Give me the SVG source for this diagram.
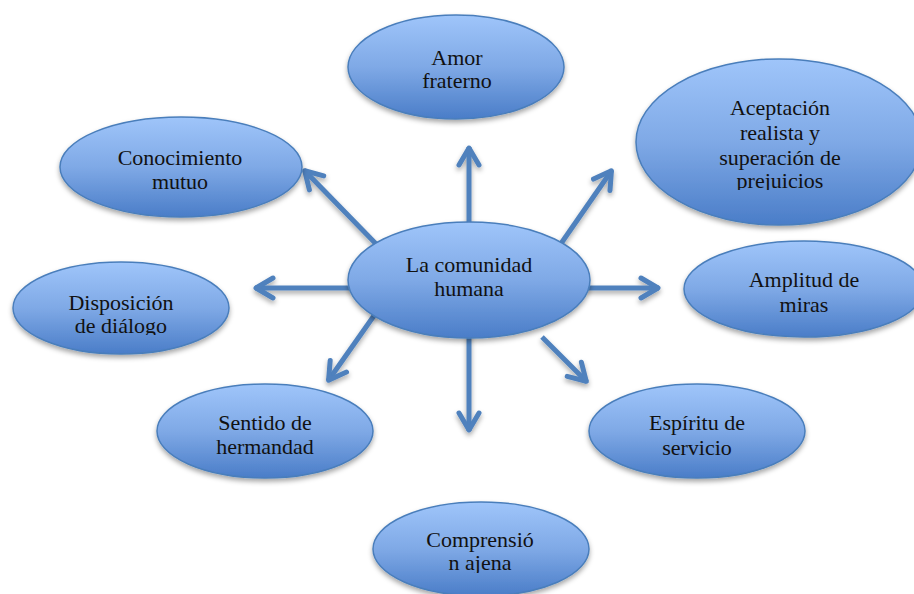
<svg xmlns="http://www.w3.org/2000/svg" width="914" height="594" viewBox="0 0 914 594">
<defs>
<linearGradient id="g" x1="0" y1="0" x2="0" y2="1">
<stop offset="0" stop-color="#9FC5FA"/>
<stop offset="0.5" stop-color="#7FA9E6"/>
<stop offset="1" stop-color="#4A7DC8"/>
</linearGradient>
<filter id="sh" x="-20%" y="-20%" width="140%" height="150%">
<feDropShadow dx="0" dy="3" stdDeviation="2.5" flood-color="#000" flood-opacity="0.35"/>
</filter>
<marker id="chev" markerUnits="userSpaceOnUse" markerWidth="30" markerHeight="30" refX="0" refY="0" viewBox="-25 -15 30 30" orient="auto" overflow="visible">
<path d="M-18,-10 L-1,0 L-18,10" fill="none" stroke="#4F81BD" stroke-width="5" stroke-linecap="round" stroke-linejoin="round"/>
</marker>
<clipPath id="c1"><rect x="600" y="40" width="314" height="150"/></clipPath>
<clipPath id="c2"><rect x="0" y="260" width="260" height="75"/></clipPath>
<clipPath id="c3"><rect x="360" y="500" width="260" height="73"/></clipPath>
</defs>
<style>
.n ellipse{fill:url(#g);stroke:#4A7EBB;stroke-width:1.5;filter:url(#sh)}
.n text{font-family:"Liberation Serif","Times New Roman",serif;font-size:22px;fill:#111;text-anchor:middle}
.c line{stroke:#4F81BD;stroke-width:5;marker-end:url(#chev)}
</style>
<rect width="914" height="594" fill="#fff"/>
<g id="connectors" class="c" filter="url(#sh)">
<line x1="469" y1="225" x2="469" y2="147"/>
<line x1="380" y1="248" x2="304" y2="170"/>
<line x1="560" y1="245" x2="612" y2="170"/>
<line x1="355" y1="288" x2="255" y2="288"/>
<line x1="585" y1="288" x2="659" y2="288"/>
<line x1="378" y1="310" x2="328" y2="381"/>
<line x1="469" y1="330" x2="469" y2="431"/>
<line x1="542" y1="337" x2="587" y2="382"/>
</g>
<g id="amor" class="n">
<ellipse cx="456" cy="67" rx="108" ry="52"/>
<text x="457" y="65">Amor</text>
<text x="457" y="88">fraterno</text>
</g>
<g id="aceptacion" class="n">
<ellipse cx="779" cy="142" rx="143" ry="83"/>
<g clip-path="url(#c1)">
<text x="780" y="115">Aceptación</text>
<text x="780" y="140">realista y</text>
<text x="780" y="165">superación de</text>
<text x="780" y="188">prejuicios</text>
</g>
</g>
<g id="conocimiento" class="n">
<ellipse cx="181" cy="167" rx="121" ry="50"/>
<text x="180" y="165">Conocimiento</text>
<text x="180" y="189">mutuo</text>
</g>
<g id="disposicion" class="n">
<ellipse cx="121" cy="308" rx="108" ry="46"/>
<g clip-path="url(#c2)">
<text x="121" y="310">Disposición</text>
<text x="121" y="333">de diálogo</text>
</g>
</g>
<g id="amplitud" class="n">
<ellipse cx="804" cy="289" rx="120" ry="48"/>
<text x="804" y="287">Amplitud de</text>
<text x="804" y="312">miras</text>
</g>
<g id="espiritu" class="n">
<ellipse cx="697" cy="431" rx="108" ry="47"/>
<text x="697" y="430">Espíritu de</text>
<text x="697" y="455">servicio</text>
</g>
<g id="sentido" class="n">
<ellipse cx="265" cy="431" rx="108" ry="47"/>
<text x="265" y="430">Sentido de</text>
<text x="265" y="454">hermandad</text>
</g>
<g id="comprension" class="n">
<ellipse cx="481" cy="549" rx="108" ry="47"/>
<g clip-path="url(#c3)">
<text x="480" y="547">Comprensió</text>
<text x="480" y="570">n ajena</text>
</g>
</g>
<g id="center" class="n">
<ellipse cx="469" cy="280" rx="121" ry="58"/>
<text x="469" y="272">La comunidad</text>
<text x="469" y="296">humana</text>
</g>
</svg>
